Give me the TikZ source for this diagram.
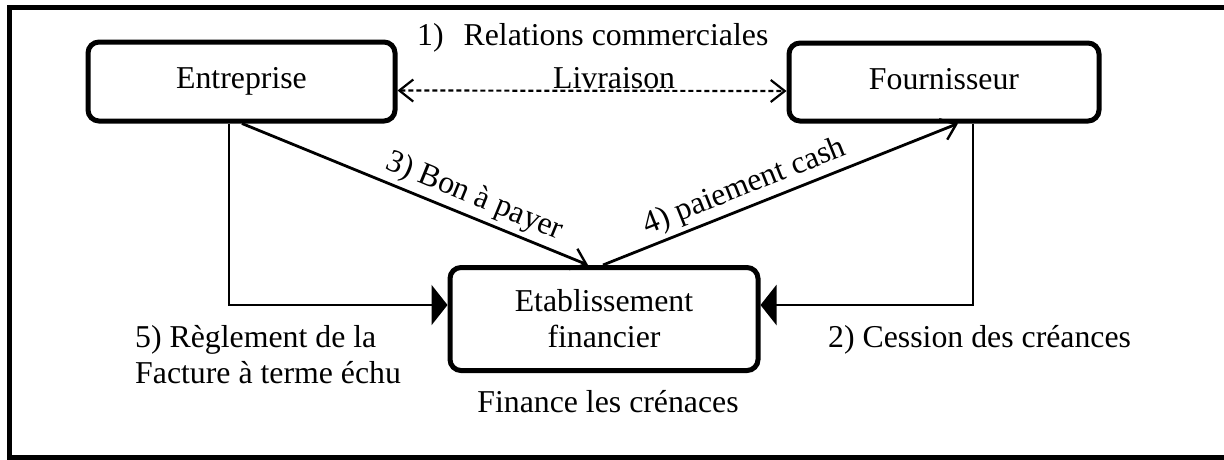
\documentclass[tikz,border=0pt]{standalone}
\usepackage{fontspec}
\setmainfont{Liberation Serif}
\usetikzlibrary{arrows.meta}
\begin{document}
\begin{tikzpicture}[x=1pt,y=-1pt,
  every node/.style={font=\fontsize{31.8}{36}\selectfont, inner sep=0pt},
  actor/.style={draw, line width=5pt, rounded corners=11pt, align=center},
  oneline/.style={text height=22pt, text depth=8pt},
  link/.style={line width=2.8pt},
  barb/.style={-{Straight Barb[length=14pt,width=22pt,line width=2.4pt]}},
  bothbarb/.style={{Straight Barb[length=14pt,width=22pt,line width=2.2pt]}-{Straight Barb[length=14pt,width=22pt,line width=2.2pt]}},
  solidtip/.style={-{Triangle[length=16pt,width=40pt]}},
  lbl/.style={anchor=base west}]
  \clip (0,0) rectangle (1224,459);

  % outer frame (runs past the right edge)
  \draw[line width=5pt] (9,7) rectangle (1240,457);

  % actors
  \node[actor, oneline, minimum width=307pt, minimum height=79pt] (ent) at (241.5,81.5) {Entreprise};
  \node[actor, oneline, minimum width=310pt, minimum height=78pt] (four) at (944,82) {Fournisseur};
  \node[actor, minimum width=308pt, minimum height=103pt] (etab) at (604,319) {Etablissement\\financier};

  % anchor columns for the connectors
  \coordinate (lx) at (229,0);
  \coordinate (rx) at (973,0);
  \coordinate (b1) at (242,0);
  \coordinate (b2) at (588,0);
  \coordinate (p1) at (603,0);
  \coordinate (p2) at (958,0);

  % 1) commercial relations / delivery
  \draw[line width=2.2pt, dash pattern=on 5pt off 3pt, bothbarb]
    ([yshift=-9pt]ent.east) -- ([yshift=-9pt]four.west);
  \node[lbl] (rel) at (417,45) {1)\hspace{20pt}Relations commerciales};
  \node[lbl] (liv) at (553,88) {Livraison};

  % 2) and 5) side connectors
  \draw[link, solidtip] (ent.south -| lx) |- ([yshift=14pt]etab.west);
  \draw[link, solidtip] (four.south -| rx) |- ([yshift=14pt]etab.east);

  % 3) and 4) diagonal connectors
  \draw[link, barb] (ent.south -| b1) -- (etab.north -| b2)
    node[pos=0.65, sloped, above=4pt] (bon) {3) Bon à payer};
  \draw[link, barb] (etab.north -| p1) -- (four.south -| p2)
    node[pos=0.42, sloped, above=4pt] (pay) {4) paiement cash};

  % free labels
  \node[lbl, align=left] (regl) at (135,383) {5) Règlement de la\\Facture à terme échu};
  \node[lbl] (cess) at (828,347) {2) Cession des créances};
  \node[anchor=base] (fin) at (608,412) {Finance les crénaces};
\end{tikzpicture}
\end{document}
